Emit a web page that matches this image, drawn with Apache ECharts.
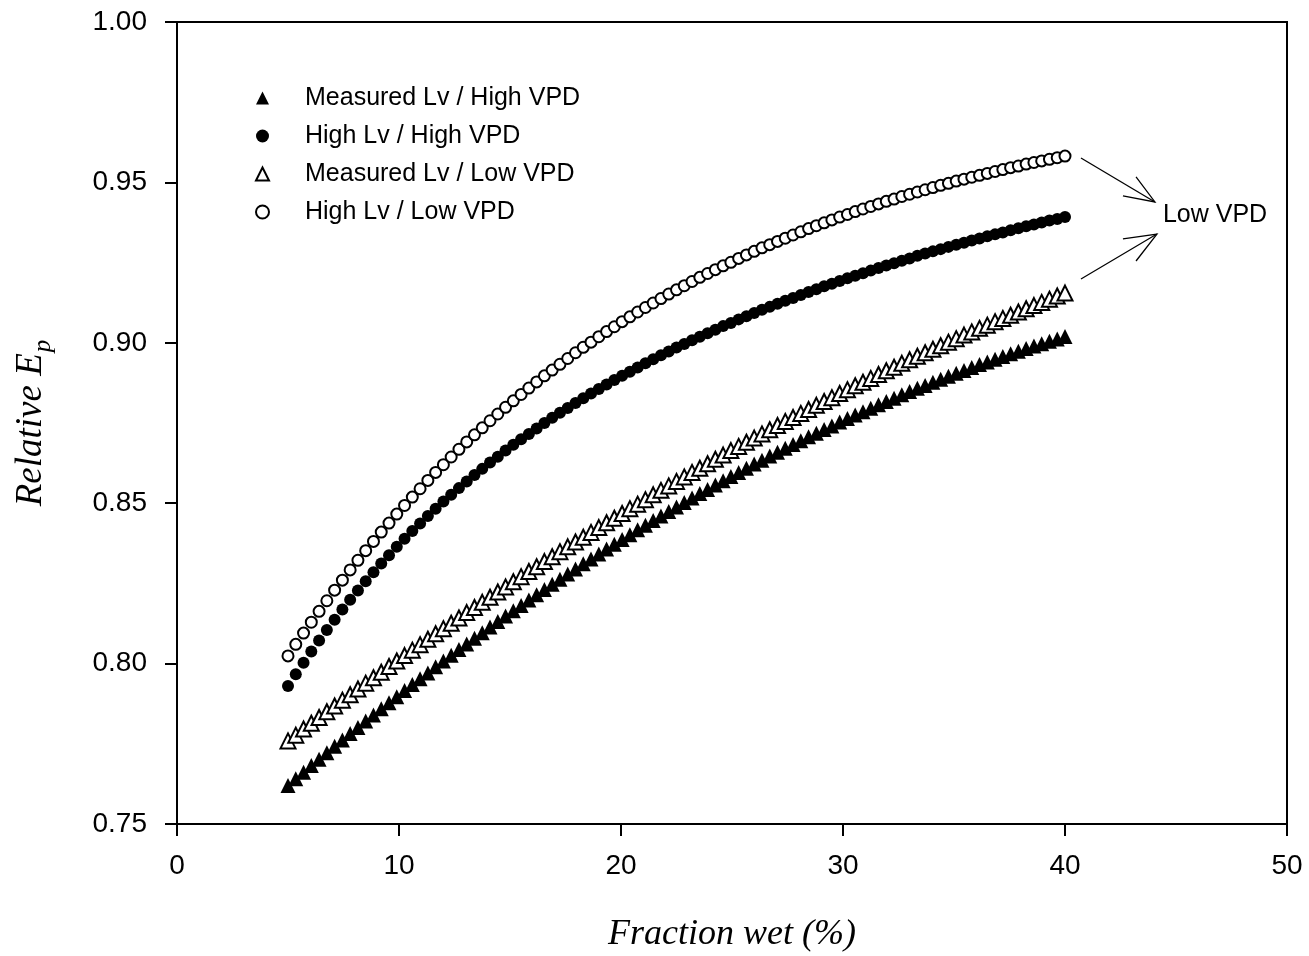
<!DOCTYPE html>
<html>
<head>
<meta charset="utf-8">
<title>Relative Ep vs fraction wet</title>
<script src="https://cdn.jsdelivr.net/npm/echarts@6/dist/echarts.min.js"></script>
<style>
  html, body { margin: 0; padding: 0; background: #fff; }
  #main { width: 1309px; height: 956px; }
</style>
</head>
<body>
<div id="main"></div>
<script>
// x: fraction wet (%)
var fractionWet = [
  5, 5.35, 5.7, 6.05, 6.4, 6.75, 7.1, 7.45, 7.8, 8.15,
  8.5, 8.85, 9.2, 9.55, 9.9, 10.25, 10.6, 10.95, 11.3, 11.65,
  12, 12.35, 12.7, 13.05, 13.4, 13.75, 14.1, 14.45, 14.8, 15.15,
  15.5, 15.85, 16.2, 16.55, 16.9, 17.25, 17.6, 17.95, 18.3, 18.65,
  19, 19.35, 19.7, 20.05, 20.4, 20.75, 21.1, 21.45, 21.8, 22.15,
  22.5, 22.85, 23.2, 23.55, 23.9, 24.25, 24.6, 24.95, 25.3, 25.65,
  26, 26.35, 26.7, 27.05, 27.4, 27.75, 28.1, 28.45, 28.8, 29.15,
  29.5, 29.85, 30.2, 30.55, 30.9, 31.25, 31.6, 31.95, 32.3, 32.65,
  33, 33.35, 33.7, 34.05, 34.4, 34.75, 35.1, 35.45, 35.8, 36.15,
  36.5, 36.85, 37.2, 37.55, 37.9, 38.25, 38.6, 38.95, 39.3, 39.65,
  40
];

// relative Ep, one list per curve
var measuredLvHighVpd = [
  0.7620, 0.7641, 0.7661, 0.7682, 0.7702, 0.7722, 0.7742, 0.7762, 0.7782, 0.7801,
  0.7821, 0.7840, 0.7859, 0.7878, 0.7897, 0.7916, 0.7935, 0.7953, 0.7971, 0.7990,
  0.8008, 0.8026, 0.8044, 0.8061, 0.8079, 0.8096, 0.8114, 0.8131, 0.8148, 0.8165,
  0.8181, 0.8198, 0.8215, 0.8231, 0.8247, 0.8263, 0.8279, 0.8295, 0.8311, 0.8326,
  0.8342, 0.8357, 0.8372, 0.8387, 0.8402, 0.8417, 0.8431, 0.8446, 0.8460, 0.8474,
  0.8488, 0.8502, 0.8516, 0.8530, 0.8543, 0.8557, 0.8570, 0.8583, 0.8596, 0.8609,
  0.8622, 0.8634, 0.8647, 0.8659, 0.8671, 0.8683, 0.8695, 0.8707, 0.8718, 0.8730,
  0.8741, 0.8753, 0.8764, 0.8775, 0.8785, 0.8796, 0.8807, 0.8817, 0.8827, 0.8838,
  0.8848, 0.8858, 0.8867, 0.8877, 0.8886, 0.8896, 0.8905, 0.8914, 0.8923, 0.8932,
  0.8940, 0.8949, 0.8957, 0.8966, 0.8974, 0.8982, 0.8990, 0.8997, 0.9005, 0.9012,
  0.9020
];

var highLvHighVpd = [
  0.7930, 0.7967, 0.8003, 0.8038, 0.8072, 0.8105, 0.8137, 0.8169, 0.8199, 0.8228,
  0.8257, 0.8285, 0.8312, 0.8338, 0.8364, 0.8389, 0.8413, 0.8437, 0.8460, 0.8483,
  0.8505, 0.8526, 0.8547, 0.8568, 0.8588, 0.8607, 0.8627, 0.8645, 0.8664, 0.8682,
  0.8699, 0.8716, 0.8733, 0.8750, 0.8766, 0.8782, 0.8797, 0.8812, 0.8827, 0.8842,
  0.8856, 0.8870, 0.8884, 0.8897, 0.8910, 0.8923, 0.8936, 0.8949, 0.8961, 0.8973,
  0.8985, 0.8996, 0.9008, 0.9019, 0.9030, 0.9041, 0.9052, 0.9062, 0.9073, 0.9083,
  0.9093, 0.9103, 0.9112, 0.9122, 0.9131, 0.9140, 0.9149, 0.9158, 0.9167, 0.9176,
  0.9184, 0.9193, 0.9201, 0.9209, 0.9217, 0.9225, 0.9233, 0.9241, 0.9248, 0.9256,
  0.9263, 0.9271, 0.9278, 0.9285, 0.9292, 0.9299, 0.9306, 0.9312, 0.9319, 0.9325,
  0.9332, 0.9338, 0.9344, 0.9351, 0.9357, 0.9363, 0.9369, 0.9375, 0.9381, 0.9386,
  0.9392
];

var measuredLvLowVpd = [
  0.7759, 0.7777, 0.7796, 0.7814, 0.7832, 0.7850, 0.7868, 0.7886, 0.7903, 0.7921,
  0.7939, 0.7956, 0.7973, 0.7991, 0.8008, 0.8025, 0.8042, 0.8059, 0.8076, 0.8093,
  0.8109, 0.8126, 0.8142, 0.8159, 0.8175, 0.8191, 0.8207, 0.8223, 0.8239, 0.8255,
  0.8271, 0.8287, 0.8302, 0.8318, 0.8333, 0.8349, 0.8364, 0.8379, 0.8394, 0.8409,
  0.8424, 0.8439, 0.8453, 0.8468, 0.8483, 0.8497, 0.8511, 0.8526, 0.8540, 0.8554,
  0.8568, 0.8582, 0.8596, 0.8609, 0.8623, 0.8637, 0.8650, 0.8664, 0.8677, 0.8690,
  0.8703, 0.8716, 0.8729, 0.8742, 0.8755, 0.8767, 0.8780, 0.8792, 0.8805, 0.8817,
  0.8829, 0.8842, 0.8854, 0.8866, 0.8877, 0.8889, 0.8901, 0.8913, 0.8924, 0.8936,
  0.8947, 0.8958, 0.8969, 0.8980, 0.8991, 0.9002, 0.9013, 0.9024, 0.9034, 0.9045,
  0.9055, 0.9066, 0.9076, 0.9086, 0.9096, 0.9106, 0.9116, 0.9126, 0.9136, 0.9146,
  0.9155
];

var highLvLowVpd = [
  0.8024, 0.8060, 0.8095, 0.8129, 0.8163, 0.8196, 0.8229, 0.8260, 0.8292, 0.8322,
  0.8352, 0.8381, 0.8410, 0.8438, 0.8466, 0.8493, 0.8519, 0.8545, 0.8571, 0.8596,
  0.8620, 0.8644, 0.8668, 0.8691, 0.8713, 0.8735, 0.8757, 0.8778, 0.8799, 0.8819,
  0.8839, 0.8859, 0.8878, 0.8897, 0.8915, 0.8933, 0.8951, 0.8969, 0.8986, 0.9002,
  0.9019, 0.9035, 0.9050, 0.9066, 0.9081, 0.9096, 0.9110, 0.9124, 0.9138, 0.9152,
  0.9165, 0.9178, 0.9191, 0.9204, 0.9216, 0.9228, 0.9240, 0.9251, 0.9263, 0.9274,
  0.9285, 0.9296, 0.9306, 0.9316, 0.9326, 0.9336, 0.9346, 0.9356, 0.9365, 0.9374,
  0.9383, 0.9392, 0.9400, 0.9409, 0.9417, 0.9425, 0.9433, 0.9441, 0.9448, 0.9456,
  0.9463, 0.9470, 0.9477, 0.9484, 0.9491, 0.9497, 0.9504, 0.9510, 0.9516, 0.9522,
  0.9528, 0.9534, 0.9540, 0.9546, 0.9551, 0.9557, 0.9562, 0.9567, 0.9572, 0.9577,
  0.9582
];

var seriesNames = [
  'Measured Lv / High VPD',
  'High Lv / High VPD',
  'Measured Lv / Low VPD',
  'High Lv / Low VPD'
];

// "Low VPD" arrows, in data coordinates
var arrowUpper = { tail: [40.72, 0.9576], tip: [44.05, 0.9439], barbs: [[43.2, 0.9517], [42.61, 0.9458]] };
var arrowLower = { tail: [40.72, 0.9199], tip: [44.14, 0.9339], barbs: [[42.61, 0.9324], [43.2, 0.9255]] };
var lowVpdLabel = [44.41, 0.9398];

var sansFont = '"Liberation Sans", Arial, sans-serif';
var serifFont = '"Liberation Serif", "Times New Roman", serif';

function toPoints(ys) {
  return fractionWet.map(function (x, i) { return [x, ys[i]]; });
}

var myChart = echarts.init(document.getElementById('main'));

var filled = { color: '#000', opacity: 1 };
var hollow = { color: '#fff', borderColor: '#000', borderWidth: 2, opacity: 1 };

var option = {
  backgroundColor: '#fff',
  animation: false,
  grid: {
    left: 177, right: 22, top: 22, bottom: 132,
    outerBoundsMode: 'none',
    show: true, borderColor: '#000', borderWidth: 2
  },
  legend: {
    orient: 'vertical',
    left: 250,
    top: 80,
    itemWidth: 13,
    itemHeight: 13,
    itemGap: 12,
    selectedMode: false,
    textStyle: {
      fontFamily: sansFont, fontSize: 25, color: '#000',
      lineHeight: 26, padding: [0, 0, 0, 31]
    },
    data: seriesNames
  },
  xAxis: {
    type: 'value',
    min: 0, max: 50, interval: 10,
    name: 'Fraction wet (%)',
    nameLocation: 'middle',
    nameGap: 93,
    nameTextStyle: { fontFamily: serifFont, fontStyle: 'italic', fontSize: 36, color: '#000' },
    axisLine: { lineStyle: { color: '#000', width: 2 } },
    axisTick: { length: 12, lineStyle: { color: '#000', width: 2 } },
    axisLabel: { margin: 28, fontFamily: sansFont, fontSize: 28, color: '#000' },
    splitLine: { show: false }
  },
  yAxis: {
    type: 'value',
    min: 0.75, max: 1, interval: 0.05,
    name: '{t|Relative E}{s|p}',
    nameLocation: 'middle',
    nameRotate: 90,
    nameGap: 127,
    nameTextStyle: {
      rich: {
        t: { fontFamily: serifFont, fontStyle: 'italic', fontSize: 37, color: '#000', lineHeight: 37, verticalAlign: 'top' },
        s: { fontFamily: serifFont, fontStyle: 'italic', fontSize: 25, color: '#000', lineHeight: 25, padding: [23, 0, 0, 1] }
      }
    },
    axisLine: { lineStyle: { color: '#000', width: 2 } },
    axisTick: { length: 12, lineStyle: { color: '#000', width: 2 } },
    axisLabel: {
      margin: 30, fontFamily: sansFont, fontSize: 28, color: '#000',
      formatter: function (v) { return v.toFixed(2); }
    },
    splitLine: { show: false }
  },
  series: [
    {
      name: seriesNames[0], type: 'scatter', symbol: 'triangle', symbolSize: 15,
      itemStyle: filled, silent: true,
      data: toPoints(measuredLvHighVpd)
    },
    {
      name: seriesNames[1], type: 'scatter', symbol: 'circle', symbolSize: 12,
      itemStyle: filled, silent: true,
      data: toPoints(highLvHighVpd)
    },
    {
      name: seriesNames[2], type: 'scatter', symbol: 'triangle', symbolSize: 15,
      itemStyle: hollow, silent: true,
      data: toPoints(measuredLvLowVpd)
    },
    {
      name: seriesNames[3], type: 'scatter', symbol: 'circle', symbolSize: 11,
      itemStyle: hollow, silent: true,
      data: toPoints(highLvLowVpd)
    }
  ]
};

myChart.setOption(option);

// arrows + "Low VPD" label placed through the axes
function px(pt) {
  return myChart.convertToPixel({ gridIndex: 0 }, pt);
}
function arrowShapes(a) {
  var lineStyle = { stroke: '#000', lineWidth: 1.3, fill: null };
  return [
    { type: 'polyline', shape: { points: [px(a.tail), px(a.tip)] }, style: lineStyle, silent: true },
    { type: 'polyline', shape: { points: [px(a.barbs[0]), px(a.tip), px(a.barbs[1])] }, style: lineStyle, silent: true }
  ];
}
var labelPos = px(lowVpdLabel);
myChart.setOption({
  graphic: arrowShapes(arrowUpper).concat(arrowShapes(arrowLower)).concat([
    {
      type: 'text', x: labelPos[0], y: labelPos[1], silent: true,
      style: { text: 'Low VPD', fontFamily: sansFont, fontSize: 25, fill: '#000', align: 'left', verticalAlign: 'middle' }
    }
  ])
});
</script>
</body>
</html>
